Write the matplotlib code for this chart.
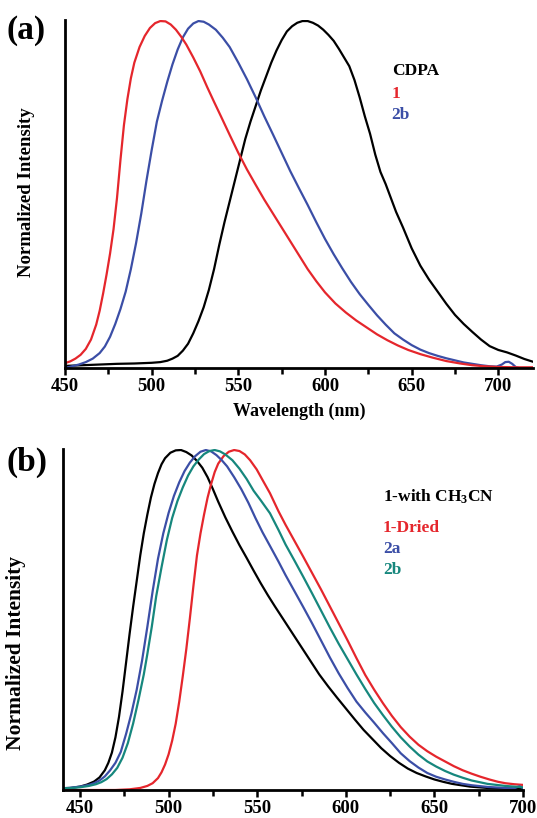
import matplotlib
matplotlib.use("Agg")
import matplotlib.pyplot as plt
from matplotlib.ticker import MultipleLocator

plt.rcParams['font.family'] = ['Liberation Serif', 'DejaVu Serif']
plt.rcParams['font.weight'] = 'bold'
plt.rcParams['mathtext.fontset'] = 'custom'
plt.rcParams['mathtext.rm'] = 'Liberation Serif:bold'
plt.rcParams['mathtext.it'] = 'Liberation Serif:bold'
plt.rcParams['mathtext.bf'] = 'Liberation Serif:bold'
plt.rcParams['mathtext.default'] = 'rm'

# ---------------- Panel (a) data ----------------
a_red_wl = [450, 453, 456, 459, 462, 465, 468, 470, 472, 474, 476, 478, 480, 482, 484, 486, 488, 490, 493, 496, 499, 502, 505,
            508, 511, 514, 517, 520, 524, 528, 532, 536, 540, 545, 550, 555, 560, 565, 570, 575, 580, 585, 590, 595, 600, 606,
            612, 618, 624, 630, 636, 642, 648, 655, 662, 670, 678, 685, 692, 700, 710, 720]
a_red_val = [0.014, 0.019, 0.027, 0.038, 0.055, 0.082, 0.125, 0.165, 0.215, 0.27, 0.33, 0.4, 0.49, 0.6, 0.7, 0.775, 0.835, 0.88,
             0.925, 0.957, 0.98, 0.994, 1.0, 0.999, 0.99, 0.975, 0.955, 0.932, 0.895, 0.855, 0.81, 0.767, 0.725, 0.672, 0.62,
             0.572, 0.528, 0.485, 0.445, 0.405, 0.365, 0.325, 0.285, 0.25, 0.218, 0.186, 0.16, 0.137, 0.117, 0.097, 0.08,
             0.065, 0.052, 0.04, 0.03, 0.02, 0.013, 0.008, 0.005, 0.003, 0.002, 0.002]

a_blue_wl = [450, 454, 458, 462, 466, 470, 473, 476, 479, 482, 485, 488, 491, 494, 497, 500, 503, 506, 509, 512, 515, 518, 521,
             524, 527, 530, 533, 537, 541, 545, 550, 555, 560, 565, 570, 575, 580, 585, 590, 595, 600, 605, 610, 615, 620, 625,
             630, 635, 640, 645, 650, 655, 660, 665, 670, 675, 680, 685, 690, 695, 699, 702, 704, 706, 708, 710, 712, 720]
a_blue_val = [0.0, 0.005, 0.01, 0.017, 0.027, 0.043, 0.062, 0.09, 0.127, 0.17, 0.22, 0.285, 0.36, 0.445, 0.54, 0.628, 0.71, 0.77,
              0.825, 0.875, 0.918, 0.953, 0.978, 0.993, 1.0, 0.998, 0.99, 0.975, 0.952, 0.925, 0.88, 0.832, 0.78, 0.725, 0.673,
              0.62, 0.567, 0.518, 0.47, 0.42, 0.372, 0.328, 0.287, 0.248, 0.213, 0.182, 0.152, 0.125, 0.1, 0.082, 0.066, 0.053,
              0.043, 0.035, 0.028, 0.022, 0.016, 0.012, 0.008, 0.005, 0.004, 0.01, 0.017, 0.018, 0.012, 0.003, 0.0, 0.0]

a_black_wl = [450, 460, 470, 480, 490, 500, 505, 509, 512, 515, 518, 521, 524, 527, 530, 533, 536, 539, 542, 545, 548, 551, 554,
              557, 560, 563, 566, 569, 572, 575, 578, 581, 584, 587, 590, 593, 596, 599, 602, 605, 608, 611, 614, 617, 620, 623,
              626, 629, 632, 635, 638, 641, 645, 650, 655, 660, 665, 670, 675, 680, 685, 690, 695, 700, 705, 710, 715, 720]
a_black_val = [0.006, 0.008, 0.01, 0.012, 0.013, 0.015, 0.017, 0.021, 0.027, 0.035, 0.05, 0.07, 0.1, 0.135, 0.175, 0.225, 0.285,
               0.355, 0.42, 0.48, 0.54, 0.6, 0.66, 0.71, 0.755, 0.8, 0.84, 0.88, 0.915, 0.945, 0.97, 0.985, 0.995, 1.0, 1.0,
               0.995, 0.987, 0.975, 0.96, 0.943, 0.92, 0.895, 0.87, 0.83, 0.78, 0.725, 0.675, 0.615, 0.565, 0.53, 0.49, 0.45,
               0.405, 0.345, 0.295, 0.255, 0.22, 0.185, 0.153, 0.127, 0.104, 0.082, 0.063, 0.052, 0.045, 0.036, 0.026, 0.018]

a_labels = ['CDPA', '1', '2b']

# ---------------- Panel (b) data ----------------
b_black_wl = [440, 445, 450, 454, 458, 461, 464, 466, 468, 470, 472, 474, 476, 478, 480, 482, 484, 486, 488, 490, 492, 494, 496,
              498, 501, 504, 507, 510, 513, 516, 519, 522, 525, 528, 532, 536, 540, 544, 548, 552, 556, 560, 565, 570, 575, 580,
              585, 590, 595, 600, 605, 610, 615, 620, 625, 630, 635, 640, 645, 650, 655, 660, 665, 670, 680, 690, 700]
b_black_val = [0.003, 0.006, 0.01, 0.016, 0.025, 0.037, 0.058, 0.08, 0.11, 0.155, 0.215, 0.29, 0.375, 0.46, 0.54, 0.615, 0.69,
               0.755, 0.81, 0.86, 0.9, 0.932, 0.958, 0.976, 0.992, 0.999, 1.0, 0.994, 0.984, 0.968, 0.948, 0.92, 0.885, 0.848,
               0.802, 0.76, 0.72, 0.683, 0.645, 0.608, 0.573, 0.54, 0.5, 0.46, 0.42, 0.38, 0.34, 0.305, 0.272, 0.24, 0.208,
               0.177, 0.15, 0.123, 0.1, 0.08, 0.063, 0.05, 0.04, 0.031, 0.024, 0.018, 0.014, 0.01, 0.006, 0.004, 0.003]

b_blue_wl = [440, 445, 450, 455, 458, 461, 464, 467, 470, 473, 476, 479, 482, 485, 488, 491, 494, 497, 500, 503, 506, 509, 512,
             515, 518, 521, 524, 527, 530, 533, 537, 541, 545, 549, 553, 557.2, 562, 566, 571, 576, 581, 586, 591, 596, 601,
             606, 611, 616, 621, 626, 631, 636, 641, 646, 651, 656, 661, 666, 671, 680, 690, 695, 698, 700]
b_blue_val = [0.005, 0.007, 0.01, 0.015, 0.02, 0.028, 0.04, 0.058, 0.08, 0.112, 0.165, 0.225, 0.295, 0.38, 0.48, 0.585, 0.68,
              0.755, 0.815, 0.865, 0.905, 0.938, 0.963, 0.982, 0.995, 1.0, 0.996, 0.985, 0.97, 0.952, 0.92, 0.885, 0.845, 0.8,
              0.758, 0.718, 0.672, 0.632, 0.585, 0.538, 0.49, 0.44, 0.39, 0.343, 0.3, 0.26, 0.228, 0.198, 0.167, 0.138, 0.108,
              0.085, 0.066, 0.05, 0.039, 0.031, 0.024, 0.018, 0.014, 0.009, 0.006, 0.005, 0.011, 0.006]

b_teal_wl = [440, 445, 450, 455, 459, 462, 465, 468, 471, 474, 477, 480, 483, 486, 488, 490.5, 493, 496, 499, 502, 505, 508, 511,
             514, 517, 520, 523, 526, 529, 532, 536, 540, 544, 548, 552, 557.2, 562, 566, 571, 576, 581, 586, 591, 596, 601,
             606, 611, 616, 621, 626, 631, 636, 641, 646, 651, 656, 661, 666, 671, 680, 690, 700]
b_teal_val = [0.005, 0.006, 0.008, 0.012, 0.017, 0.023, 0.032, 0.046, 0.065, 0.095, 0.138, 0.196, 0.265, 0.34, 0.4, 0.48, 0.57,
              0.655, 0.735, 0.8, 0.85, 0.89, 0.925, 0.952, 0.972, 0.988, 0.997, 1.0, 0.996, 0.987, 0.97, 0.945, 0.915, 0.88,
              0.852, 0.814, 0.765, 0.722, 0.675, 0.627, 0.578, 0.528, 0.478, 0.43, 0.385, 0.34, 0.297, 0.256, 0.22, 0.186,
              0.155, 0.128, 0.104, 0.084, 0.069, 0.056, 0.045, 0.036, 0.028, 0.018, 0.012, 0.008]

b_red_wl = [440, 470, 478, 484, 488, 491, 494, 496, 498, 500, 502, 504, 506, 508, 510, 512, 514, 516, 518, 520, 522, 524, 526,
            528, 531, 534, 537, 540, 543, 546, 549.7, 553, 557.2, 562, 566, 571, 576, 581, 586, 591, 596, 601, 606, 611, 616,
            621, 626, 631, 636, 641, 646, 651, 656, 661, 666, 671, 676, 681, 686, 690, 695, 700]
b_red_val = [0.0, 0.0, 0.002, 0.006, 0.012, 0.02, 0.035, 0.052, 0.075, 0.105, 0.145, 0.195, 0.26, 0.335, 0.415, 0.505, 0.6,
             0.69, 0.755, 0.81, 0.86, 0.9, 0.935, 0.96, 0.982, 0.995, 1.0, 0.997, 0.987, 0.97, 0.943, 0.912, 0.873, 0.82, 0.78,
             0.733, 0.686, 0.638, 0.59, 0.54, 0.49, 0.44, 0.388, 0.338, 0.295, 0.255, 0.218, 0.185, 0.157, 0.133, 0.114,
             0.098, 0.084, 0.07, 0.058, 0.048, 0.039, 0.031, 0.024, 0.02, 0.017, 0.015]

b_labels = ['1-with CH$_{3}$CN', '1-Dried', '2a', '2b']

RED = '#e5262c'
BLUE = '#3b4ea6'
TEAL = '#16877d'
BLACK = '#000000'

W, H = 537, 818
fig = plt.figure(figsize=(W / 100, H / 100), dpi=100)

def px_axes(l, t, r, b):
    return fig.add_axes([l / W, 1 - b / H, (r - l) / W, (b - t) / H])

def style(ax):
    for s in ['top', 'right']:
        ax.spines[s].set_visible(False)
    for s in ['left', 'bottom']:
        ax.spines[s].set_linewidth(2.0)
    ax.set_yticks([])
    ax.xaxis.set_major_locator(MultipleLocator(50))
    ax.xaxis.set_minor_locator(MultipleLocator(25))
    ax.tick_params(axis='x', which='major', direction='out', length=5, width=1.8, labelsize=13.5, pad=2)
    ax.tick_params(axis='x', which='minor', direction='out', length=4, width=1.8)
    for lab in ax.get_xticklabels():
        lab.set_fontweight('bold')

lw = 1.6
# Panel (a)
ax1 = px_axes(65, 20, 533, 368)
ax1.plot(a_black_wl, a_black_val, color=BLACK, lw=lw)
ax1.plot(a_blue_wl, a_blue_val, color=BLUE, lw=lw)
ax1.plot(a_red_wl, a_red_val, color=RED, lw=lw)
ax1.set_xlim(450, 720)
ax1.set_ylim(0, 1.003)
style(ax1)
ax1.set_xlabel('Wavelength (nm)', fontsize=13, fontweight='bold', labelpad=6)
for lab, col, yv in zip(a_labels, [BLACK, RED, BLUE], [0.856, 0.79, 0.728]):
    ax1.text(638.5, yv, lab, color=col, fontsize=12.5, fontweight='bold', va='center', ha='left')

# Panel (b)
ax2 = px_axes(63, 449, 523, 790)
ax2.plot(b_black_wl, b_black_val, color=BLACK, lw=lw)
ax2.plot(b_red_wl, b_red_val, color=RED, lw=lw)
ax2.plot(b_blue_wl, b_blue_val, color=BLUE, lw=lw)
ax2.plot(b_teal_wl, b_teal_val, color=TEAL, lw=lw)
ax2.set_xlim(440.4, 700)
ax2.set_ylim(0, 1.003)
style(ax2)
for lab, col, yv in zip(b_labels, [BLACK, RED, BLUE, TEAL], [0.862, 0.77, 0.71, 0.646]):
    ax2.text(621, yv, lab, color=col, fontsize=12.5, fontweight='bold', va='center', ha='left')

# Y labels and panel letters
fig.text(27 / W, 1 - 192 / H, 'Normalized Intensity', rotation=90, fontsize=13.5, fontweight='bold', ha='center', va='center')
fig.text(16 / W, 1 - 653 / H, 'Normalized Intensity', rotation=90, fontsize=15.5, fontweight='bold', ha='center', va='center')
fig.text(7 / W, 1 - 31 / H, '(a)', fontsize=24, fontweight='bold', ha='left', va='center')
fig.text(7 / W, 1 - 462 / H, '(b)', fontsize=24, fontweight='bold', ha='left', va='center')

fig.savefig('out.png', dpi=100)
